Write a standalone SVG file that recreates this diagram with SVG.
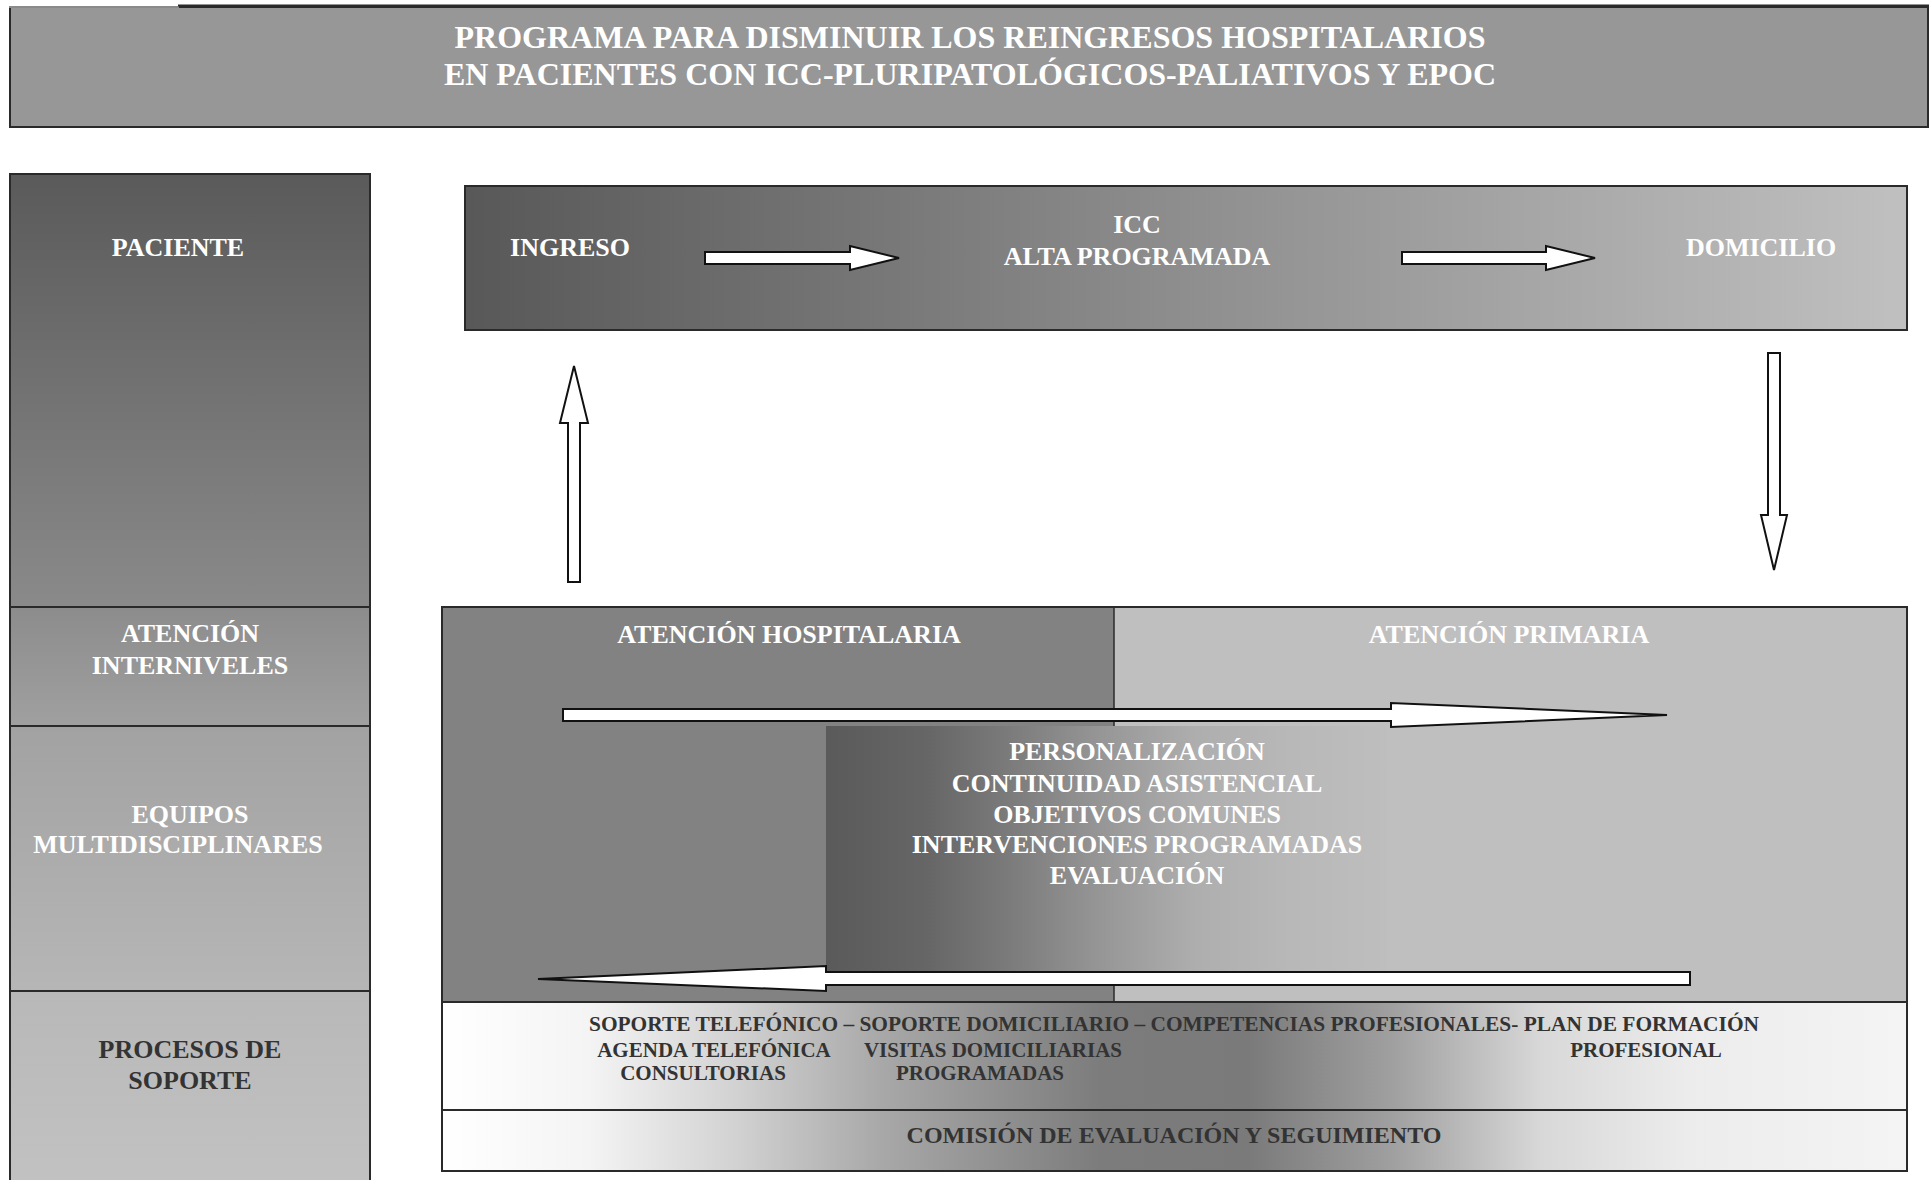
<svg xmlns="http://www.w3.org/2000/svg" width="1930" height="1180" viewBox="0 0 1930 1180">
<style>
.t{font-family:"Liberation Serif","Times New Roman",serif;font-weight:bold;text-anchor:middle}
.w{fill:#ffffff}
.d{fill:#333333}
.s26{font-size:26px}
.s32{font-size:32px}
.s21{font-size:21px}
.s24{font-size:24px}
.box{stroke:#2a2a2a;stroke-width:2}
.arr{fill:#ffffff;stroke:#111111;stroke-width:2;stroke-linejoin:miter}
</style>
<defs>
<linearGradient id="gPac" x1="0" y1="0" x2="0" y2="1"><stop offset="0" stop-color="#5a5a5a"/><stop offset="1" stop-color="#8a8a8a"/></linearGradient>
<linearGradient id="gInt" x1="0" y1="0" x2="0" y2="1"><stop offset="0" stop-color="#8c8c8c"/><stop offset="1" stop-color="#a0a0a0"/></linearGradient>
<linearGradient id="gEq" x1="0" y1="0" x2="0" y2="1"><stop offset="0" stop-color="#a2a2a2"/><stop offset="1" stop-color="#b6b6b6"/></linearGradient>
<linearGradient id="gPro" x1="0" y1="0" x2="0" y2="1"><stop offset="0" stop-color="#b8b8b8"/><stop offset="1" stop-color="#c2c2c2"/></linearGradient>
<linearGradient id="gFlow" x1="0" y1="0" x2="1" y2="0"><stop offset="0" stop-color="#585858"/><stop offset="0.5" stop-color="#8e8e8e"/><stop offset="1" stop-color="#c0c0c0"/></linearGradient>
<linearGradient id="gCen" x1="0" y1="0" x2="1" y2="0"><stop offset="0" stop-color="#5a5a5a"/><stop offset="0.18" stop-color="#666666"/><stop offset="0.32" stop-color="#7a7a7a"/><stop offset="0.49" stop-color="#969696"/><stop offset="0.66" stop-color="#aeaeae"/><stop offset="0.83" stop-color="#b8b8b8"/><stop offset="1" stop-color="#bebebe"/></linearGradient>
<linearGradient id="gSup" x1="0" y1="0" x2="1" y2="0"><stop offset="0" stop-color="#ffffff"/><stop offset="0.1" stop-color="#f4f4f4"/><stop offset="0.2" stop-color="#d2d2d2"/><stop offset="0.3" stop-color="#a8a8a8"/><stop offset="0.45" stop-color="#7c7c7c"/><stop offset="0.55" stop-color="#7a7a7a"/><stop offset="0.65" stop-color="#a0a0a0"/><stop offset="0.75" stop-color="#d8d8d8"/><stop offset="0.85" stop-color="#ececec"/><stop offset="1" stop-color="#f4f4f4"/></linearGradient>
</defs>

<g id="title">
<rect x="10" y="7" width="1918" height="120" fill="#979797" stroke="#2a2a2a" stroke-width="2"/>
<line x1="9" y1="7" x2="179" y2="7" stroke="#8a8a8a" stroke-width="2"/>
<line x1="178" y1="5.5" x2="1929" y2="5.5" stroke="#2a2a2a" stroke-width="2"/>
<text class="t w s32" x="970" y="48">PROGRAMA PARA DISMINUIR LOS REINGRESOS HOSPITALARIOS</text>
<text class="t w s32" x="970" y="85">EN PACIENTES CON ICC-PLURIPATOLÓGICOS-PALIATIVOS Y EPOC</text>
</g>

<g id="paciente">
<rect class="box" x="10" y="174" width="360" height="433" fill="url(#gPac)"/>
<text class="t w s26" x="178" y="256">PACIENTE</text>
</g>
<g id="interniveles">
<rect class="box" x="10" y="607" width="360" height="119" fill="url(#gInt)"/>
<text class="t w s26" x="190" y="642">ATENCIÓN</text>
<text class="t w s26" x="190" y="674">INTERNIVELES</text>
</g>
<g id="equipos">
<rect class="box" x="10" y="726" width="360" height="265" fill="url(#gEq)"/>
<text class="t w s26" x="190" y="823">EQUIPOS</text>
<text class="t w s26" x="178" y="853">MULTIDISCIPLINARES</text>
</g>
<g id="procesos">
<rect class="box" x="10" y="991" width="360" height="200" fill="url(#gPro)"/>
<text class="t d s26" x="190" y="1058">PROCESOS DE</text>
<text class="t d s26" x="190" y="1089">SOPORTE</text>
</g>

<g id="flujo">
<rect class="box" x="465" y="186" width="1442" height="144" fill="url(#gFlow)"/>
<text class="t w s26" x="570" y="256">INGRESO</text>
<text class="t w s26" x="1137" y="233">ICC</text>
<text class="t w s26" x="1137" y="265">ALTA PROGRAMADA</text>
<text class="t w s26" x="1761" y="256">DOMICILIO</text>
</g>

<g id="atencion">
<rect x="442" y="607" width="672" height="395" fill="#828282"/>
<rect x="1114" y="607" width="793" height="395" fill="#bfbfbf"/>
<rect class="box" x="442" y="607" width="1465" height="395" fill="none"/>
<line x1="1114" y1="607" x2="1114" y2="1002" stroke="#2a2a2a" stroke-width="1.5"/>
<text class="t w s26" x="789" y="643">ATENCIÓN HOSPITALARIA</text>
<text class="t w s26" x="1509" y="643">ATENCIÓN PRIMARIA</text>
</g>

<g id="objetivos">
<rect x="826" y="726" width="561" height="246" fill="url(#gCen)"/>
<text class="t w s26" x="1137" y="760">PERSONALIZACIÓN</text>
<text class="t w s26" x="1137" y="792">CONTINUIDAD ASISTENCIAL</text>
<text class="t w s26" x="1137" y="823">OBJETIVOS COMUNES</text>
<text class="t w s26" x="1137" y="853">INTERVENCIONES PROGRAMADAS</text>
<text class="t w s26" x="1137" y="884">EVALUACIÓN</text>
</g>

<g id="soporte">
<rect class="box" x="442" y="1002" width="1465" height="108" fill="url(#gSup)"/>
<text class="t d" style="font-size:21.4px" x="1174" y="1031">SOPORTE TELEFÓNICO – SOPORTE DOMICILIARIO – COMPETENCIAS PROFESIONALES- PLAN DE FORMACIÓN</text>
<text class="t d s21" x="714" y="1057">AGENDA TELEFÓNICA</text>
<text class="t d s21" x="993" y="1057">VISITAS DOMICILIARIAS</text>
<text class="t d s21" x="1646" y="1057">PROFESIONAL</text>
<text class="t d s21" x="703" y="1080">CONSULTORIAS</text>
<text class="t d s21" x="980" y="1080">PROGRAMADAS</text>
</g>

<g id="comision">
<rect class="box" x="442" y="1110" width="1465" height="61" fill="url(#gSup)"/>
<text class="t d s24" x="1174" y="1143">COMISIÓN DE EVALUACIÓN Y SEGUIMIENTO</text>
</g>

<g id="connectors">
<polygon class="arr" points="705,252 850,252 850,246 899,258 850,270 850,264 705,264"/>
<polygon class="arr" points="1402,252 1546,252 1546,246 1595,258 1546,270 1546,264 1402,264"/>
<polygon class="arr" points="568,582 568,423 560,423 574,366 588,423 580,423 580,582"/>
<polygon class="arr" points="1768,353 1780,353 1780,515 1787,515 1774,570 1761,515 1768,515"/>
<polygon class="arr" points="563,709 1391,709 1391,703 1667,715 1391,727 1391,721 563,721"/>
<polygon class="arr" points="1690,972 826,972 826,966 538,979 826,991 826,985 1690,985"/>
</g>
</svg>
